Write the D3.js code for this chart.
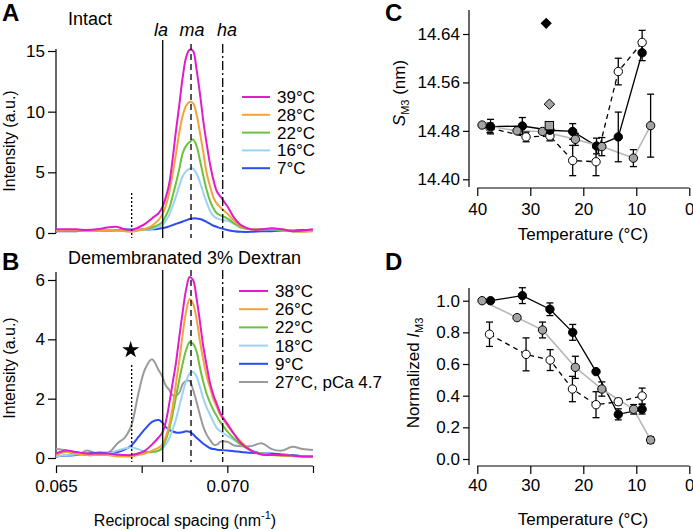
<!DOCTYPE html>
<html><head><meta charset="utf-8">
<script src="https://cdn.jsdelivr.net/npm/d3@7"></script>
<style>body{margin:0;background:#fff;} svg text{font-family:"Liberation Sans",Arial,Helvetica,sans-serif;fill:#000;}</style>
</head><body>
<svg id="c" width="693" height="531"></svg>
<script>
// ---------- DATA ----------
const q = [0.0650,0.0653,0.0656,0.0659,0.0662,0.0665,0.0668,0.0670,0.0672,0.0674,0.0676,0.0678,0.0680,0.0681,0.0682,0.0683,0.0684,0.0685,0.0686,0.0687,0.0688,0.0689,0.0690,0.0691,0.0692,0.0693,0.0694,0.0695,0.0696,0.0697,0.0698,0.0700,0.0702,0.0704,0.0707,0.0710,0.0713,0.0716,0.0719,0.0722,0.0725];

const intactLabels = ["39°C","28°C","22°C","16°C","7°C"];
const intact39 = [0.3,0.3,0.3,0.25,0.3,0.45,0.5,0.3,0.25,0.45,0.75,1.2,1.65,2.1,2.9,4.0,6.0,8.4,10.6,12.9,14.5,15.1,15.0,13.5,11.5,9.2,7.3,5.6,4.3,3.4,3.0,2.2,1.25,0.65,0.3,0.3,0.4,0.3,0.15,0.2,0.3];
const intact28 = [0.2,0.25,0.25,0.2,0.2,0.25,0.2,0.15,0.1,0.2,0.35,0.6,1.1,1.5,2.2,3.3,4.8,6.5,8.3,9.7,10.5,10.8,10.7,9.8,8.3,6.6,4.9,3.8,2.9,2.4,2.1,1.6,1.0,0.55,0.3,0.3,0.35,0.3,0.15,0.1,0.15];
const intact22 = [0.2,0.2,0.2,0.2,0.2,0.2,0.2,0.2,0.2,0.25,0.3,0.45,0.7,0.9,1.4,2.0,3.0,4.1,5.3,6.6,7.2,7.5,7.7,7.2,6.0,4.7,3.5,2.6,2.0,1.6,1.45,1.2,0.8,0.45,0.3,0.3,0.3,0.25,0.15,0.15,0.2];
const intact16 = [0.2,0.2,0.2,0.2,0.2,0.2,0.2,0.25,0.3,0.3,0.3,0.35,0.5,0.65,1.0,1.45,2.2,3.0,3.9,4.7,5.1,5.3,5.3,4.9,4.2,3.3,2.5,1.8,1.4,1.2,1.1,1.0,0.75,0.45,0.3,0.3,0.3,0.25,0.15,0.15,0.2];
const intact7 = [0.15,0.15,0.15,0.2,0.2,0.2,0.25,0.3,0.3,0.3,0.3,0.3,0.35,0.4,0.45,0.55,0.65,0.75,0.85,0.95,1.05,1.15,1.2,1.2,1.15,1.05,0.9,0.75,0.6,0.5,0.4,0.25,0.15,0.1,0.1,0.15,0.15,0.2,0.2,0.25,0.25];

const demLabels = ["38°C","26°C","22°C","18°C","9°C","27°C, pCa 4.7"];
const dem38 = [0.15,0.25,0.2,0.15,0.15,0.15,0.12,0.1,0.1,0.15,0.25,0.45,0.7,0.85,1.2,1.8,2.5,3.2,4.1,4.95,5.7,6.1,6.0,5.4,4.6,3.75,3.1,2.5,2.1,1.8,1.5,1.15,0.8,0.5,0.25,0.12,0.1,0.1,0.08,0.05,0.05];
const dem26 = [0.1,0.2,0.15,0.1,0.1,0.1,0.05,0.05,0.05,0.1,0.15,0.25,0.35,0.45,0.7,1.1,1.7,2.5,3.3,4.2,4.95,5.35,5.2,4.7,3.95,3.3,2.75,2.35,1.95,1.7,1.45,1.1,0.8,0.55,0.25,0.12,0.1,0.08,0.06,0.05,0.05];
const dem22 = [0.15,0.2,0.15,0.1,0.1,0.1,0.08,0.08,0.1,0.15,0.2,0.2,0.25,0.35,0.6,0.95,1.45,2.05,2.65,3.2,3.65,3.9,3.85,3.6,3.05,2.55,2.15,1.85,1.6,1.4,1.2,0.9,0.65,0.45,0.25,0.15,0.1,0.08,0.07,0.05,0.05];
const dem18 = [0.05,0.1,0.12,0.1,0.12,0.15,0.25,0.32,0.35,0.3,0.2,0.2,0.25,0.3,0.45,0.65,0.95,1.3,1.75,2.2,2.6,2.85,2.9,2.75,2.4,2.0,1.7,1.45,1.2,1.0,0.9,0.75,0.6,0.45,0.25,0.15,0.1,0.1,0.08,0.07,0.07];
const dem9 = [0.05,0.08,0.1,0.15,0.18,0.18,0.2,0.28,0.42,0.7,0.98,1.22,1.28,1.2,1.05,0.95,0.9,0.86,0.85,0.87,0.9,0.88,0.8,0.68,0.58,0.48,0.4,0.33,0.3,0.28,0.27,0.25,0.23,0.2,0.18,0.15,0.15,0.12,0.1,0.06,0.05];
const dem27pCa = [0.3,0.25,0.1,0.25,0.15,0.15,0.5,0.68,1.1,2.15,3.0,3.33,2.95,2.75,2.45,2.3,2.12,2.1,2.2,2.5,2.6,2.6,2.3,1.9,1.45,1.05,0.78,0.6,0.45,0.45,0.55,0.55,0.42,0.4,0.4,0.5,0.3,0.25,0.38,0.3,0.27];

const laQ = 0.068114, maQ = 0.06894, haQ = 0.069865, starQ = 0.067209;
const yTicksA = [0,5,10,15];
const yTicksB = [0,2,4,6];
const xTicksB = [0.065,0.0675,0.070,0.0725];
const xLabelsB = ["0.065","","0.070",""];

// Panel C: S_M3 (nm)
const cTempBlack = [37.5,31.5,26.3,22.0,17.5,13.4,8.9];
const cSBlack    = [14.487,14.488,14.481,14.479,14.455,14.470,14.609];
const cErrBlack  = [0.012,0.014,0,0.013,0.013,0.041,0.013];
const cTempOpen  = [37.6,30.8,26.3,22.0,17.6,13.4,8.9];
const cSOpen     = [14.485,14.470,14.4715,14.431,14.429,14.578,14.626];
const cErrOpen   = [0.008,0.008,0.008,0.025,0.023,0.022,0.02];
const cTempGray  = [39.1,32.5,27.7,21.5,16.5,10.55,7.3];
const cSGray     = [14.4896,14.480,14.479,14.466,14.454,14.435,14.4886];
const cErrGray   = [0,0,0,0.01,0.015,0.014,0.052];
const cSquareGray = {t:26.4, s:14.4886};
const cDiamondGray = {t:26.4, s:14.524};
const cDiamondBlack = {t:27.0, s:14.6577};
const yTicksC = [14.40,14.48,14.56,14.64];
const xTicksCD = [40,30,20,10,0];

// Panel D: normalized I_M3
const dTempBlack = [37.5,31.5,26.3,22.0,17.6,13.4,8.9];
const dIBlack    = [1.0,1.032,0.946,0.80,0.552,0.282,0.314];
const dErrBlack  = [0,0.05,0.04,0.05,0,0.035,0.03];
const dTempOpen  = [37.7,30.8,26.25,22.05,17.6,13.4,8.9];
const dIOpen     = [0.788,0.661,0.625,0.442,0.343,0.362,0.398];
const dErrOpen   = [0.077,0.104,0.066,0.08,0.082,0.02,0.05];
const dTempGray  = [39.1,32.5,27.7,21.5,16.5,10.5,7.3];
const dIGray     = [1.0,0.893,0.815,0.579,0.442,0.314,0.12];
const dErrGray   = [0,0,0.05,0.07,0.045,0.03,0.02];
const yTicksD = [0,0.2,0.4,0.6,0.8,1.0];

// ---------- DRAW ----------
const svg = d3.select("#c");
const colA = ["#e01ccd","#f2a33a","#6cc23e","#9dd2f3","#2a4cf2"];
const colB = ["#e01ccd","#f2a33a","#6cc23e","#9dd2f3","#2a4cf2","#9b9b9b"];

const xAB = d3.scaleLinear().domain([0.065,0.0725]).range([56,313]);
const yA = d3.scaleLinear().domain([0,15]).range([233,51]);
const yB = d3.scaleLinear().domain([0,6]).range([458,280]);
const xCD = d3.scaleLinear().domain([40,0]).range([477.3,689.3]);
const yC = d3.scaleLinear().domain([14.40,14.64]).range([179.3,34]);
const yD = d3.scaleLinear().domain([0,1]).range([459,300.7]);

function style(g, fs){
  g.attr("font-family",null).attr("font-size",null);
  g.select(".domain").remove();
  g.selectAll(".tick line").attr("stroke","#000").attr("stroke-width",1.2);
  g.selectAll(".tick text").attr("font-size",fs||17).attr("fill","#000");
}
function vline(x,y1,y2,dash,w){
  svg.append("line").attr("x1",x).attr("x2",x).attr("y1",y1).attr("y2",y2)
    .attr("stroke","#000").attr("stroke-width",w||1.3).attr("stroke-dasharray",dash||null);
}
function hline(y,x1,x2){
  svg.append("line").attr("x1",x1).attr("x2",x2).attr("y1",y).attr("y2",y).attr("stroke","#000").attr("stroke-width",1.2);
}
function txt(x,y,s,fs,opts){
  const t = svg.append("text").attr("x",x).attr("y",y).attr("font-size",fs).text(s);
  if(opts){ for(const k in opts) t.attr(k,opts[k]); }
  return t;
}

// Panel A
txt(2,21,"A",24,{"font-weight":"bold"});
txt(68,25,"Intact",18);
txt(161,36,"la",18,{"font-style":"italic","text-anchor":"middle"});
txt(192,36,"ma",18,{"font-style":"italic","text-anchor":"middle"});
txt(227,36,"ha",18,{"font-style":"italic","text-anchor":"middle"});
svg.append("g").attr("transform","translate(56,0)")
  .call(d3.axisLeft(yA).tickValues(yTicksA).tickFormat(d3.format("d")).tickSize(8).tickPadding(3)).call(g=>style(g));
vline(56,49,233,null,1.2);

const seriesA = [intact39,intact28,intact22,intact16,intact7];
const lineA = d3.line().x((d,i)=>xAB(q[i])).y(d=>yA(d)).curve(d3.curveCatmullRom.alpha(0.5));
for(let k=seriesA.length-1;k>=0;k--){
  svg.append("path").attr("d",lineA(seriesA[k])).attr("fill","none").attr("stroke",colA[k]).attr("stroke-width",2);
}
vline(xAB(laQ),40,238,null);
vline(xAB(maQ),44,238,"6,4");
vline(xAB(haQ),44,238,"9,3,2,3");
vline(xAB(starQ),193,238,"2,2");
intactLabels.forEach((l,i)=>{
  const y = 97 + i*17.8;
  svg.append("line").attr("x1",242).attr("x2",270).attr("y1",y).attr("y2",y).attr("stroke",colA[i]).attr("stroke-width",2);
  txt(277,y+6,l,17);
});

// Panel B
txt(2,270,"B",24,{"font-weight":"bold"});
txt(68,264,"Demembranated 3% Dextran",18);
svg.append("g").attr("transform","translate(56,0)")
  .call(d3.axisLeft(yB).tickValues(yTicksB).tickFormat(d3.format("d")).tickSize(8).tickPadding(3)).call(g=>style(g));
vline(56,272,458,null,1.2);
svg.append("g").attr("transform","translate(0,466)")
  .call(d3.axisBottom(xAB).tickValues(xTicksB).tickFormat((d,i)=>xLabelsB[i]).tickSize(7).tickPadding(7)).call(g=>style(g));
hline(466,56,313);

const seriesB = [dem38,dem26,dem22,dem18,dem9,dem27pCa];
const lineB = d3.line().x((d,i)=>xAB(q[i])).y(d=>yB(d)).curve(d3.curveCatmullRom.alpha(0.5));
for(let k=seriesB.length-1;k>=0;k--){
  svg.append("path").attr("d",lineB(seriesB[k])).attr("fill","none").attr("stroke",colB[k]).attr("stroke-width",2);
}
vline(xAB(laQ),270,462,null);
vline(xAB(maQ),270,462,"6,4");
vline(xAB(haQ),270,462,"9,3,2,3");
vline(xAB(starQ),365,462,"2,2");
svg.append("path").attr("d",d3.symbol(d3.symbolStar,90)()).attr("transform",`translate(${xAB(starQ)-1},350)`).attr("fill","#000");
demLabels.forEach((l,i)=>{
  const y = 291 + i*18.2;
  svg.append("line").attr("x1",239).attr("x2",268).attr("y1",y).attr("y2",y).attr("stroke",colB[i]).attr("stroke-width",2);
  txt(275,y+6,l,17);
});

// x-axis title
const xt = txt(185,526,"Reciprocal spacing (nm",16,{"text-anchor":"middle"});
xt.append("tspan").attr("font-size",11).attr("dy",-7).text("-1");
xt.append("tspan").attr("dy",7).text(")");

// y-axis titles A/B
txt(0,0,"Intensity (a.u.)",16,{"text-anchor":"middle","transform":"translate(15,141) rotate(-90)"});
txt(0,0,"Intensity (a.u.)",16,{"text-anchor":"middle","transform":"translate(15,368) rotate(-90)"});

// ---------- Panels C & D ----------
function scatterPanel(xs, ys, yTicks, fmt, axisTop, axisY, pad, sets){
  svg.append("g").attr("transform","translate(469,0)")
    .call(d3.axisLeft(ys).tickValues(yTicks).tickFormat(d3.format(fmt)).tickSize(6).tickPadding(3)).call(g=>style(g));
  vline(469,axisTop,axisY-1,null,1.2);
  svg.append("g").attr("transform",`translate(0,${axisY})`)
    .call(d3.axisBottom(xs).tickValues(xTicksCD).tickSize(8).tickPadding(pad)).call(g=>style(g));
  hline(axisY,xs(40),xs(0));
  sets.forEach(s=>{
    const ln = d3.line().x((d,i)=>xs(s.t[i])).y(d=>ys(d));
    svg.append("path").attr("d",ln(s.v)).attr("fill","none").attr("stroke",s.lc).attr("stroke-width",s.lw).attr("stroke-dasharray",s.dash||null);
  });
  sets.forEach(s=>{
    s.v.forEach((v,i)=>{
      const e = s.e[i]; if(!e) return;
      const x = xs(s.t[i]);
      const g = svg.append("g").attr("stroke","#000").attr("stroke-width",1.3);
      g.append("line").attr("x1",x).attr("x2",x).attr("y1",ys(v-e)).attr("y2",ys(v+e));
      g.append("line").attr("x1",x-3.5).attr("x2",x+3.5).attr("y1",ys(v-e)).attr("y2",ys(v-e));
      g.append("line").attr("x1",x-3.5).attr("x2",x+3.5).attr("y1",ys(v+e)).attr("y2",ys(v+e));
    });
  });
  sets.forEach(s=>{
    s.v.forEach((v,i)=>{
      svg.append("circle").attr("cx",xs(s.t[i])).attr("cy",ys(v)).attr("r",4.2)
        .attr("fill",s.fill).attr("stroke","#000").attr("stroke-width",1);
    });
  });
}

txt(385,21,"C",24,{"font-weight":"bold"});
scatterPanel(xCD,yC,yTicksC,".2f",10,188,7,[
  {t:cTempOpen,v:cSOpen,e:cErrOpen,lc:"#000",lw:1.3,dash:"5,4",fill:"#fff"},
  {t:cTempBlack,v:cSBlack,e:cErrBlack,lc:"#000",lw:1.3,fill:"#000"},
  {t:cTempGray,v:cSGray,e:cErrGray,lc:"#b8b8b8",lw:1.6,fill:"#a3a3a3"},
]);
svg.append("rect").attr("x",xCD(cSquareGray.t)-4.2).attr("y",yC(cSquareGray.s)-4.2).attr("width",8.4).attr("height",8.4)
  .attr("fill","#a3a3a3").attr("stroke","#000").attr("stroke-width",1);
svg.append("path").attr("d",d3.symbol(d3.symbolDiamond2,70)()).attr("transform",`translate(${xCD(cDiamondGray.t)},${yC(cDiamondGray.s)})`)
  .attr("fill","#a3a3a3").attr("stroke","#000").attr("stroke-width",1);
svg.append("path").attr("d",d3.symbol(d3.symbolDiamond2,80)()).attr("transform",`translate(${xCD(cDiamondBlack.t)},${yC(cDiamondBlack.s)})`)
  .attr("fill","#000");
const cy = txt(0,0,"S",17,{"transform":"translate(405,93) rotate(-90)","text-anchor":"middle","font-style":"italic"});
cy.append("tspan").attr("font-size",11).attr("font-style","normal").attr("dy",4).text("M3");
cy.append("tspan").attr("font-style","normal").attr("dy",-4).text(" (nm)");
txt(583,240,"Temperature (°C)",17,{"text-anchor":"middle"});

txt(385,270,"D",24,{"font-weight":"bold"});
scatterPanel(xCD,yD,yTicksD,".1f",288,466,5,[
  {t:dTempOpen,v:dIOpen,e:dErrOpen,lc:"#000",lw:1.3,dash:"5,4",fill:"#fff"},
  {t:dTempBlack,v:dIBlack,e:dErrBlack,lc:"#000",lw:1.3,fill:"#000"},
  {t:dTempGray,v:dIGray,e:dErrGray,lc:"#b8b8b8",lw:1.6,fill:"#a3a3a3"},
]);
const dy = txt(0,0,"Normalized ",17,{"transform":"translate(419,373) rotate(-90)","text-anchor":"middle"});
dy.append("tspan").attr("font-style","italic").text("I");
dy.append("tspan").attr("font-size",11).attr("dy",4).text("M3");
txt(583,525,"Temperature (°C)",17,{"text-anchor":"middle"});
</script>
</body></html>
